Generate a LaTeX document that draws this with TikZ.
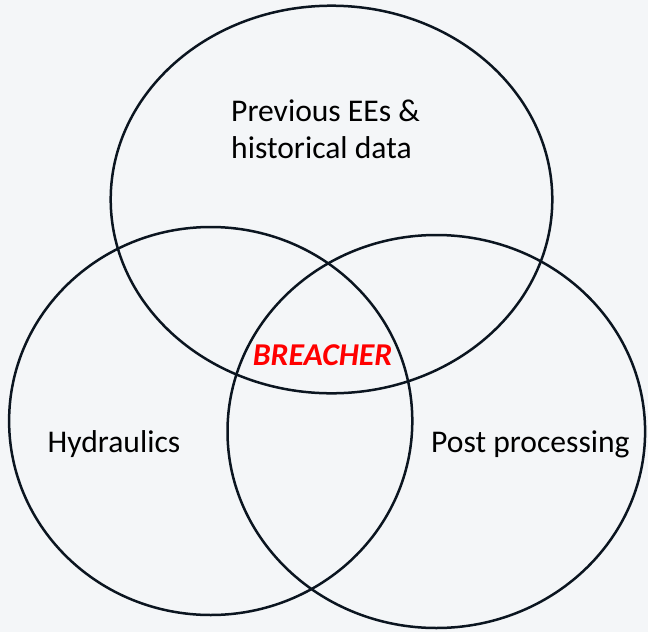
\documentclass[tikz,border=0pt]{standalone}
\usepackage{fontspec}
\setmainfont{Carlito}
\usetikzlibrary{shapes.geometric}
\definecolor{bg}{HTML}{F4F6F8}
\definecolor{ln}{HTML}{0B1520}
\definecolor{hot}{HTML}{FF0000}
\begin{document}
\begin{tikzpicture}[x=1pt,y=-1pt,
  ring/.style={draw=ln, line width=2.5pt, ellipse, inner sep=0pt, outer sep=0pt},
  lbl/.style={font=\fontsize{31.6}{37.5}\selectfont, inner sep=0pt, anchor=base west, text=black, align=left},
  hub/.style={font=\fontsize{31.8}{37.5}\selectfont\bfseries\itshape, inner sep=0pt, text=hot}]
\fill[bg] (0,0) rectangle (648,632);
\useasboundingbox (0,0) rectangle (648,632);
\node[ring, minimum width=441.6pt, minimum height=387.6pt] (top) at (331.5,199.5) {};
\node[ring, minimum width=403.2pt, minimum height=388pt] (left) at (210.7,421) {};
\node[ring, minimum width=417.6pt, minimum height=393pt] (right) at (436.3,431.5) {};
\node[lbl] (prev) at (231,121) {Previous EEs \&};
\node[lbl] (hist) at (231,158) {historical data};
\node[lbl] (hyd) at (47.5,452) {Hydraulics};
\node[lbl] (post) at (431,452) {Post processing};
\node[hub, anchor=base] (breach) at (322.5,365) {BREACHER};
\end{tikzpicture}
\end{document}
